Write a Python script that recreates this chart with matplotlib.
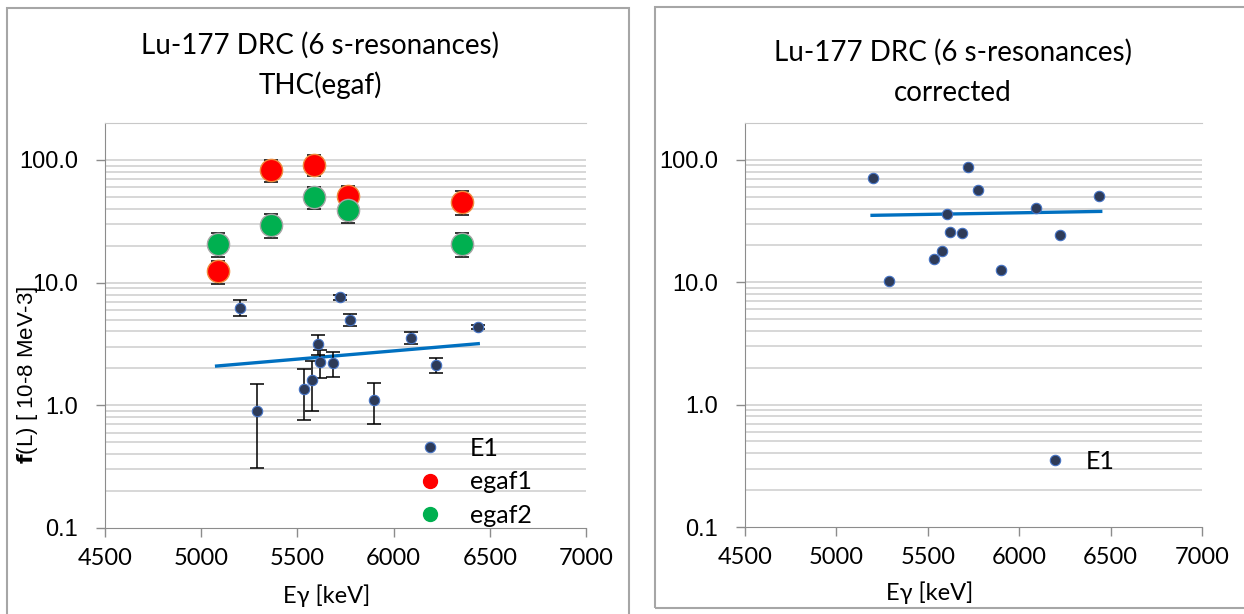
import numpy as np
import matplotlib
matplotlib.use('Agg')
import matplotlib.pyplot as plt
from matplotlib.lines import Line2D
from matplotlib.patches import Rectangle

# E1 strengths (THC egaf), 10^-8 MeV^-3
e1_x = [5200, 5290, 5535, 5575, 5606, 5620, 5687, 5720, 5773, 5899, 6091, 6222, 6439]
e1_y = [6.25, 0.90, 1.36, 1.60, 3.14, 2.24, 2.21, 7.63, 4.99, 1.11, 3.56, 2.12, 4.35]
e1_err = [0.9, 0.59, 0.6, 0.7, 0.58, 0.58, 0.52, 0.35, 0.6, 0.4, 0.42, 0.3, 0.2]

# egaf reference values
egaf_x = [5085, 5364, 5585, 5763, 6353]
egaf1_y = [12.4, 83.4, 91.6, 50.8, 45.4]
egaf1_err = [2.7, 17.0, 18.0, 10.0, 10.0]
egaf2_y = [20.8, 29.7, 49.9, 38.8, 20.8]
egaf2_err = [4.7, 6.5, 10.0, 8.0, 4.7]

# corrected E1 strengths
corr_y = [71.6, 10.3, 15.5, 18.1, 36.1, 25.6, 25.1, 86.7, 57.2, 12.6, 40.6, 24.2, 50.2]

# trend lines (exponential fits)
trend1_x = [5080, 6440]
trend1_y = [2.09, 3.18]
trend2_x = [5195, 6446]
trend2_y = [35.2, 37.9]

xticks = [4500, 5000, 5500, 6000, 6500, 7000]
yticks = [0.1, 1, 10, 100]
ytick_labels = ['0.1', '1.0', '10.0', '100.0']
grid_vals = [k * 10.0 ** n for n in (-1, 0, 1) for k in range(2, 10)] + [1, 10, 100]

navy = '#2E3B58'
navy_edge = '#4472C4'
trend_col = '#0070C0'
grid_col = '#D4D4D4'
axis_col = '#8C8C8C'

plt.rcParams['font.family'] = ['Lato', 'DejaVu Sans']

W, H = 1244, 614
fig = plt.figure(figsize=(W / 100, H / 100), dpi=100)


def px_axes(l, t, r, b):
    return fig.add_axes([l / W, (H - b) / H, (r - l) / W, (b - t) / H])


def setup(ax):
    ax.set_yscale('log')
    ax.set_xlim(4500, 7000)
    ax.set_ylim(0.1, 200)
    for v in grid_vals:
        ax.axhline(v, color=grid_col, lw=1.3, zorder=0)
    ax.spines['right'].set_visible(False)
    ax.spines['top'].set_color('#C8C8C8')
    ax.spines['left'].set_color(axis_col)
    ax.spines['bottom'].set_color(axis_col)
    ax.set_xticks(xticks)
    ax.set_xticklabels([str(t) for t in xticks], fontsize=17)
    ax.set_yticks(yticks)
    ax.set_yticklabels(ytick_labels, fontsize=17, family=['Liberation Sans'])
    ax.yaxis.set_minor_locator(matplotlib.ticker.NullLocator())
    ax.tick_params(axis='both', which='major', direction='out', length=6.5, color=axis_col, width=1)
    ax.tick_params(axis='x', pad=8)
    ax.tick_params(axis='y', pad=13)
    ax.set_xlabel('Eγ [keV]', fontsize=17)


def title(x, y1, y2, line1, line2):
    fig.text(x / W, 1 - y1 / H, line1, fontsize=20, ha='center', va='center')
    fig.text(x / W, 1 - y2 / H, line2, fontsize=20, ha='center', va='center')


# panel frames
fig.add_artist(Rectangle((7 / W, -0.02), (629 - 7) / W, (H - 8) / H + 0.02,
                         transform=fig.transFigure, fill=False, ec='#A6A6A6', lw=1.5))
fig.add_artist(Rectangle((655 / W, (H - 608) / H), 0.5, (608 - 7) / H,
                         transform=fig.transFigure, fill=False, ec='#A6A6A6', lw=1.5))

# left chart
ax1 = px_axes(105, 123, 586, 528)
setup(ax1)
ax1.plot(trend1_x, trend1_y, color=trend_col, lw=2.4, zorder=2)
ax1.errorbar(e1_x, e1_y, yerr=e1_err, fmt='none', ecolor='black', elinewidth=1.1, capsize=5, capthick=1.1, zorder=3)
ax1.errorbar(egaf_x, egaf1_y, yerr=egaf1_err, fmt='none', ecolor='black', elinewidth=1.1, capsize=5, capthick=1.1, zorder=3)
ax1.errorbar(egaf_x, egaf2_y, yerr=egaf2_err, fmt='none', ecolor='black', elinewidth=1.1, capsize=5, capthick=1.1, zorder=3)
ax1.plot(e1_x, e1_y, 'o', ms=7.5, mfc=navy, mec=navy_edge, mew=0.8, zorder=4)
ax1.plot(egaf_x, egaf1_y, 'o', ms=16, mfc='#FF0000', mec='#F08A3C', mew=1.0, zorder=4)
ax1.plot(egaf_x, egaf2_y, 'o', ms=16, mfc='#00B050', mec='#A5A5A5', mew=1.0, zorder=4)
title(320, 45, 85, 'Lu-177 DRC (6 s-resonances)', 'THC(egaf)')
ax1.set_ylabel('$\\mathbf{f}$(L) [ 10-8 MeV-3]', fontsize=16, family=['Liberation Sans'])
ax1.yaxis.set_label_coords(-0.135, 0.378)
ax1.xaxis.set_label_coords(0.46, -0.14)

handles = [Line2D([], [], ls='none', marker='o', ms=7.5, mfc=navy, mec=navy_edge, mew=0.8),
           Line2D([], [], ls='none', marker='o', ms=10, mfc='#FF0000', mec='#FF0000'),
           Line2D([], [], ls='none', marker='o', ms=10, mfc='#00B050', mec='#00B050')]
ax1.legend(handles, ['E1', 'egaf1', 'egaf2'], loc='upper left', bbox_to_anchor=(0.65, 0.225),
           frameon=False, fontsize=18, handlelength=1.0, handletextpad=1.1,
           labelspacing=0.42, borderpad=0, borderaxespad=0)

# right chart
ax2 = px_axes(745, 123, 1202, 527)
setup(ax2)
ax2.plot(trend2_x, trend2_y, color=trend_col, lw=2.4, zorder=2)
ax2.plot(e1_x, corr_y, 'o', ms=7.5, mfc=navy, mec=navy_edge, mew=0.8, zorder=4)
title(953, 52, 93, 'Lu-177 DRC (6 s-resonances)', 'corrected')
ax2.xaxis.set_label_coords(0.405, -0.135)
ax2.legend(handles[:1], ['E1'], loc='upper left', bbox_to_anchor=(0.65, 0.19),
           frameon=False, fontsize=18, handlelength=1.0, handletextpad=0.75,
           borderpad=0, borderaxespad=0)

fig.savefig('out.png', dpi=100)
